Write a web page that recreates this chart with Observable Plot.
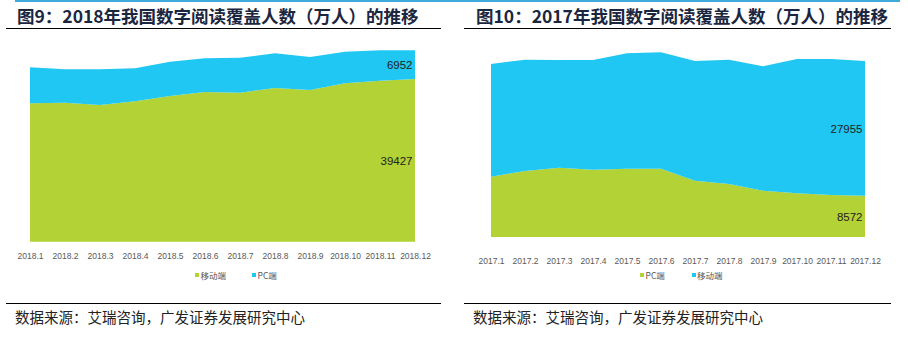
<!DOCTYPE html>
<html><head><meta charset="utf-8">
<script src="https://cdn.jsdelivr.net/npm/d3@7"></script>
<script src="https://cdn.jsdelivr.net/npm/@observablehq/plot@0.6"></script>
<style>
body{margin:0;width:908px;height:359px;background:#fff;position:relative;overflow:hidden;font-family:"Noto Sans CJK SC",sans-serif;}
.abs{position:absolute;}
.title{font-weight:bold;font-size:17.5px;color:#1b2640;line-height:1;white-space:nowrap;}
.rule{height:1.5px;background:#000;}
.src{font-size:14.5px;color:#222;line-height:1;white-space:nowrap;}
.leg{font-size:8.5px;color:#555;line-height:1;white-space:nowrap;}
.sw{width:4px;height:4px;}
</style></head><body>
<div class="abs" style="left:15px;top:0;width:885px;height:2px;background:#3fa9dc"></div>
<div class="abs title" style="left:17px;top:7px">图9：2018年我国数字阅读覆盖人数（万人）的推移</div>
<div class="abs title" style="left:476px;top:7px">图10：2017年我国数字阅读覆盖人数（万人）的推移</div>
<div class="abs rule" style="left:6px;top:27.5px;width:435px"></div>
<div class="abs rule" style="left:464px;top:27.5px;width:427px"></div>
<div id="left" class="abs" style="left:0;top:30px"></div>
<div id="right" class="abs" style="left:454px;top:30px"></div>
<div id="legs"></div>
<div class="abs rule" style="left:6px;top:302.5px;width:435px"></div>
<div class="abs rule" style="left:464px;top:302.5px;width:427px"></div>
<div class="abs src" style="left:15px;top:310px">数据来源：艾瑞咨询，广发证券发展研究中心</div>
<div class="abs src" style="left:473px;top:310px">数据来源：艾瑞咨询，广发证券发展研究中心</div>
<script>
const GREEN = "#b2d235";
const BLUE = "#20c7f2";

const months2018 = ["2018.1","2018.2","2018.3","2018.4","2018.5","2018.6","2018.7","2018.8","2018.9","2018.10","2018.11","2018.12"];
const mobile2018 = [33540, 33680, 33120, 34020, 35300, 36270, 36100, 37240, 36760, 38380, 39010, 39427];
const pc2018 = [8720, 8090, 8650, 8000, 8310, 8170, 8480, 8410, 8000, 7660, 7370, 6952];

const months2017 = ["2017.1","2017.2","2017.3","2017.4","2017.5","2017.6","2017.7","2017.8","2017.9","2017.10","2017.11","2017.12"];
const pc2017 = [12525, 13700, 14390, 13980, 14190, 14190, 11690, 11000, 9620, 9065, 8720, 8572];
const mobile2017 = [23390, 23115, 22355, 22765, 23940, 24150, 24850, 25815, 25810, 27885, 28230, 27955];

const MOBILE = "移动端";
const PC = "PC端";

function chart({months, bottom, top, marginLeft, marginRight, marginTop, marginBottom, ymax, tickPadding}) {
  const data = [];
  months.forEach((m, i) => {
    data.push({month: m, series: bottom.name, value: bottom.values[i]});
    data.push({month: m, series: top.name, value: top.values[i]});
  });
  const last = months[months.length - 1];
  return Plot.plot({
    width: 454, height: 260,
    marginLeft, marginRight, marginTop, marginBottom,
    x: {type: "point", domain: months, padding: 0, label: null, tickSize: 0, tickPadding},
    y: {domain: [0, ymax], axis: null},
    color: {domain: [bottom.name, top.name], range: [GREEN, BLUE]},
    style: {fontFamily: "'Liberation Sans', Arial, sans-serif", fontSize: "8.5px", color: "#595959", background: "transparent"},
    marks: [
      Plot.areaY(data, {x: "month", y: "value", fill: "series", z: "series", curve: "linear"}),
      Plot.text(data, Plot.stackY({filter: d => d.month === last, x: "month", y: "value", z: "series",
        text: d => String(d.value), textAnchor: "end", dx: -3, fontSize: 11.5, fill: "#222"}))
    ]
  });
}

document.getElementById("left").appendChild(chart({
  months: months2018,
  bottom: {name: MOBILE, values: mobile2018},
  top: {name: PC, values: pc2018},
  marginLeft: 29.3, marginRight: 37.3, marginTop: 5.3, marginBottom: 48.3, ymax: 50000, tickPadding: 11
}));
document.getElementById("right").appendChild(chart({
  months: months2017,
  bottom: {name: PC, values: pc2017},
  top: {name: MOBILE, values: mobile2017},
  marginLeft: 32.7, marginRight: 38.3, marginTop: 14.3, marginBottom: 53, ymax: 40000, tickPadding: 20
}));

const legends = [
  {x: 195, label: MOBILE, color: GREEN}, {x: 252, label: PC, color: BLUE},
  {x: 640, label: PC, color: GREEN}, {x: 691.5, label: MOBILE, color: BLUE}
];
const legs = document.getElementById("legs");
legends.forEach(l => {
  const sw = document.createElement("div");
  sw.className = "abs sw"; sw.style.left = l.x + "px"; sw.style.top = "273px"; sw.style.background = l.color;
  legs.appendChild(sw);
  const t = document.createElement("div");
  t.className = "abs leg"; t.style.left = (l.x + 5.5) + "px"; t.style.top = "270.5px"; t.textContent = l.label;
  legs.appendChild(t);
});
</script>
</body></html>
